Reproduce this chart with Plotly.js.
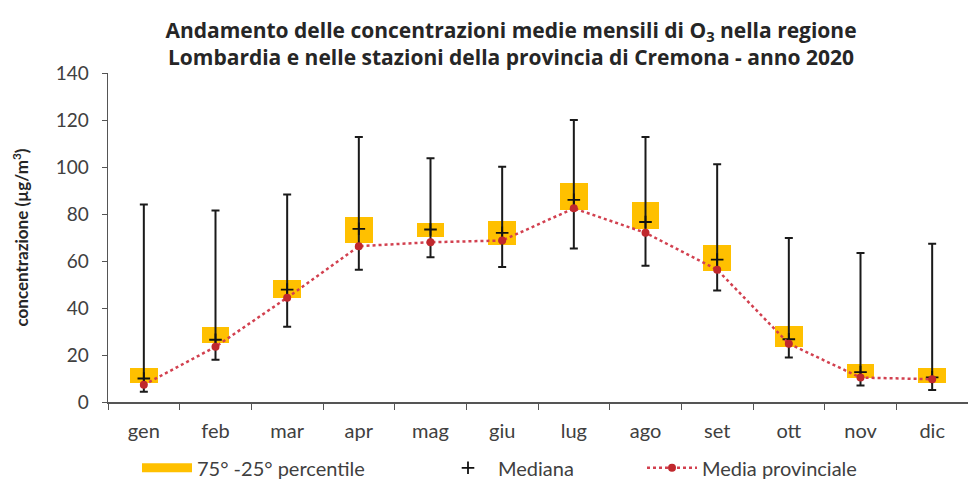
<!DOCTYPE html>
<html>
<head>
<meta charset="utf-8">
<script src="https://cdn.plot.ly/plotly-3.0.1.min.js"></script>
<style>html,body{margin:0;padding:0;background:#fff;}#chart{width:968px;height:481px;}</style>
</head>
<body>
<div id="chart"></div>
<script>
const months = ['gen','feb','mar','apr','mag','giu','lug','ago','set','ott','nov','dic'];
const p25 = [8.3, 25, 44.4, 67.8, 70.2, 67, 81.9, 73.7, 55.6, 23.6, 10.1, 8.3];
const p75 = [14.4, 32, 51.8, 78.7, 76, 77, 93.3, 85.2, 66.6, 32.2, 16.2, 14.4];
const minVal = [4.4, 18, 32, 56.3, 61.6, 57.5, 65.3, 58, 47.5, 18.9, 7, 5.1];
const maxVal = [84, 81.5, 88.3, 112.8, 103.7, 100.1, 120, 112.8, 101.2, 69.8, 63.4, 67.3];
const median = [10, 26.5, 47.8, 73.7, 73.4, 72, 86, 76.6, 60.6, 26.7, 12.7, 10.5];
const mean = [7.3, 23.5, 44.4, 66.3, 68, 68.7, 82.4, 72, 56.3, 24.8, 10.4, 9.7];

const FONT = 'Lato, "Open Sans", sans-serif';
const TFONT = '"Open Sans", Lato, sans-serif';
const ORANGE = '#FFC000';

const boxHeight = p75.map((v, i) => v - p25[i]);
const errPlus = maxVal.map((v, i) => v - median[i]);
const errMinus = median.map((v, i) => v - minVal[i]);

const traces = [
  {
    type: 'bar', x: months, y: boxHeight, base: p25, width: 0.39,
    marker: {color: ORANGE, line: {width: 0}}, showlegend: false, hoverinfo: 'skip'
  },
  {
    type: 'scatter', mode: 'markers', x: months, y: median,
    marker: {size: 1, color: 'rgba(0,0,0,0)'},
    error_y: {type: 'data', symmetric: false, array: errPlus, arrayminus: errMinus,
              color: '#1a1a1a', thickness: 2, width: 4},
    showlegend: false, hoverinfo: 'skip'
  },
  {
    type: 'scatter', mode: 'lines', x: [months[0]], y: [null],
    line: {color: ORANGE, width: 9}, name: '75° -25° percentile',
    showlegend: true, legend: 'legend'
  },
  {
    type: 'scatter', mode: 'markers', x: months, y: median, name: 'Mediana',
    marker: {symbol: 'cross-thin', size: 9, line: {width: 1.8, color: '#111'}},
    legend: 'legend2'
  },
  {
    type: 'scatter', mode: 'lines+markers', x: months, y: mean, name: 'Media provinciale',
    line: {color: '#d2404f', width: 2.5, dash: 'dot'},
    marker: {color: '#c0282d', size: 8},
    legend: 'legend3'
  }
];

const legendBase = {
  orientation: 'h', yanchor: 'middle', xanchor: 'left', y: -0.2,
  itemwidth: 50, font: {family: FONT, size: 20, color: '#404040'},
  bgcolor: 'rgba(0,0,0,0)'
};

const layout = {
  width: 968, height: 481,
  margin: {l: 108, r: 0, t: 73, b: 79, autoexpand: false},
  paper_bgcolor: '#fff', plot_bgcolor: '#fff',
  font: {family: FONT, color: '#404040'},
  title: {
    text: 'Andamento delle concentrazioni medie mensili di O<sub>3</sub> nella regione<br>Lombardia e nelle stazioni della provincia di Cremona - anno 2020',
    x: 511 / 968, xanchor: 'center', yref: 'container', y: 1 - 38 / 481, yanchor: 'top',
    font: {family: TFONT, size: 21, weight: 700, color: '#262626'}
  },
  xaxis: {
    type: 'category', range: [-0.5, 11.5], autorange: false,
    tickson: 'boundaries', ticks: 'outside', ticklen: 6,
    tickcolor: '#555', showline: true, linecolor: '#555', linewidth: 1.5,
    showgrid: false, tickfont: {family: FONT, size: 20, color: '#404040'},
    ticklabelstandoff: 10, automargin: false
  },
  yaxis: {
    range: [0, 140], dtick: 20, ticks: 'outside', ticklen: 5, tickcolor: '#555',
    showline: true, linecolor: '#555', linewidth: 1.5, showgrid: false, zeroline: false,
    tickfont: {family: FONT, size: 19, color: '#404040'}, ticklabelstandoff: 9,
    automargin: false,
    title: {text: 'concentrazione (µg/m<sup>3</sup>)', standoff: 22,
            font: {family: FONT, size: 17, weight: 700, color: '#262626'}}
  },
  legend: Object.assign({}, legendBase, {x: (137 - 108) / 860}),
  legend2: Object.assign({}, legendBase, {x: (438 - 108) / 860}),
  legend3: Object.assign({}, legendBase, {x: (642 - 108) / 860}),
  bargap: 0
};

Plotly.newPlot('chart', traces, layout, {displayModeBar: false, staticPlot: true});
</script>
</body>
</html>
